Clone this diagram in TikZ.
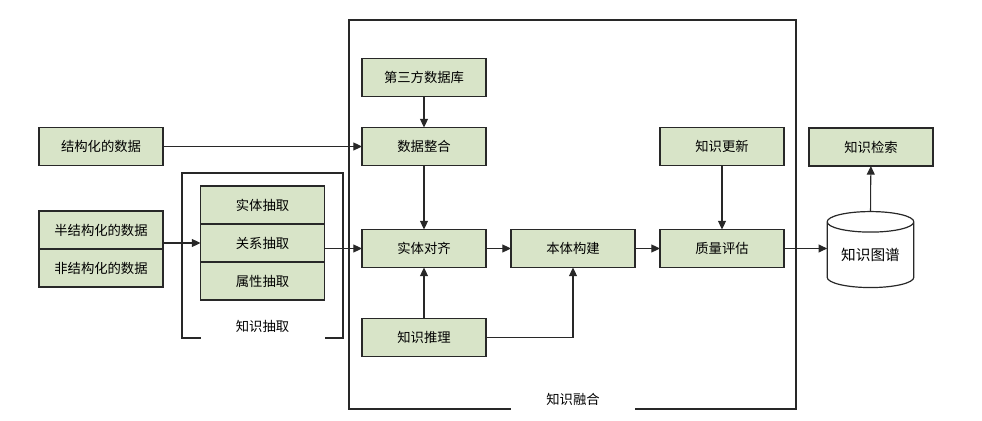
\documentclass[tikz,border=0pt]{standalone}
\usepackage{fontspec}
\usepackage{tikz}
\usetikzlibrary{shapes.geometric, arrows.meta, positioning}
\newfontfamily\cjk{Noto Sans CJK SC}
\definecolor{kgGreen}{RGB}{216,228,200}
\definecolor{kgLine}{RGB}{40,40,40}

\begin{document}
\begin{tikzpicture}[
    x=0.75pt, y=0.75pt,
    stepbox/.style={draw=kgLine, fill=kgGreen, rectangle, line width=0.9pt, align=center, inner sep=0pt, outer sep=0pt, font=\cjk\fontsize{10}{12}\selectfont, minimum width=93pt, minimum height=28.5pt},
    framebox/.style={draw=kgLine, line width=0.8pt},
    framelabel/.style={fill=white, inner sep=0pt, minimum width=93pt, minimum height=22pt, font=\cjk\fontsize{10}{12}\selectfont},
    storebox/.style={draw=kgLine, fill=white, cylinder, shape border rotate=90, aspect=0.35, line width=0.9pt, font=\cjk\fontsize{11}{13}\selectfont, minimum width=65pt, minimum height=57pt, inner sep=0pt, outer sep=0pt},
    arrow/.style={-{Triangle[length=6.5pt, width=6pt]}, line width=0.8pt, draw=kgLine}
]
\useasboundingbox (0,0) rectangle (982,421);

% Frames
\draw [framebox] (349,12) rectangle (796,401);
\draw [framebox] (182,83) rectangle (343,248);
\node (fuse_lbl) [framelabel] at (573,22) {知识融合};
\node (extr_lbl) [framelabel] at (262.5,95) {知识抽取};

% Fusion column
\node (third) [stepbox] at (424,343.5) {第三方数据库};
\node (merge) [stepbox, below=23.25pt of third] {数据整合};
\node (align) [stepbox, below=48pt of merge] {实体对齐};
\node (reason) [stepbox, below=38.25pt of align] {知识推理};
\node (onto) [stepbox, right=18.75pt of align] {本体构建};
\node (qual) [stepbox, right=18.75pt of onto] {质量评估};
\node (update) [stepbox, above=48pt of qual] {知识更新};

% Data sources
\node (struct) [stepbox, left=149.25pt of merge] {结构化的数据};
\node (semi) [stepbox] at (101,191) {半结构化的数据};
\node (unstruct) [stepbox, below=0pt of semi] {非结构化的数据};

% Knowledge extraction
\node (rel) [stepbox] at (262.5,178) {关系抽取};
\node (ent) [stepbox, above=0pt of rel] {实体抽取};
\node (attr) [stepbox, below=0pt of rel] {属性抽取};

% Knowledge graph store
\node (kg) [storebox] at (870.5,166) {知识图谱};
\node (search) [stepbox] at (871,274) {知识检索};

% Connections
\draw [arrow] (struct) -- (merge);
\draw [arrow] (semi.east |- rel.west) -- (rel.west);
\draw [arrow] (rel.east |- align.west) -- (align.west);
\draw [arrow] (third) -- (merge);
\draw [arrow] (merge) -- (align);
\draw [arrow] (reason) -- (align);
\draw [arrow] (reason.east) -| (onto.south);
\draw [arrow] (align) -- (onto);
\draw [arrow] (onto) -- (qual);
\draw [arrow] (update) -- (qual);
\draw [arrow] (qual.east) -- (qual.east -| kg.west);
\draw [arrow] (kg.north) -- (search);

\end{tikzpicture}
\end{document}
